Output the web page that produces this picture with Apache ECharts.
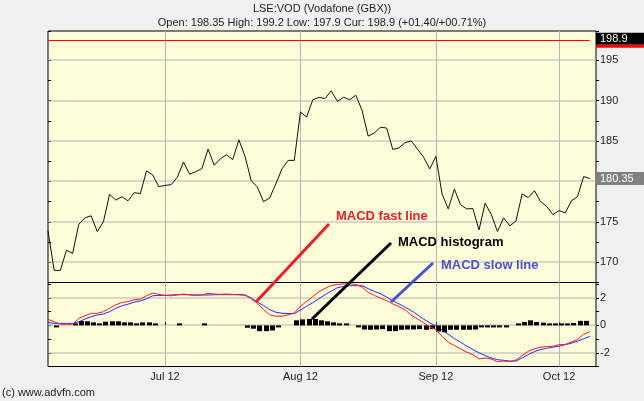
<!DOCTYPE html>
<html><head><meta charset="utf-8">
<script src="https://cdn.jsdelivr.net/npm/echarts@6/dist/echarts.min.js"></script>
<style>html,body{margin:0;padding:0;background:#f0f0f0;} #c{width:644px;height:401px;}</style>
</head><body><div id="c"></div>
<script>
const titleText = 'LSE:VOD (Vodafone (GBX))';
const subtitleText = 'Open: 198.35 High: 199.2 Low: 197.9 Cur: 198.9 (+01.40/+00.71%)';
const footerText = '(c) www.advfn.com';

const dates = [
 '2012-06-01','2012-06-06','2012-06-07','2012-06-08','2012-06-11','2012-06-12','2012-06-13','2012-06-14','2012-06-15',
 '2012-06-18','2012-06-19','2012-06-20','2012-06-21','2012-06-22','2012-06-25','2012-06-26','2012-06-27','2012-06-28','2012-06-29',
 '2012-07-02','2012-07-03','2012-07-04','2012-07-05','2012-07-06','2012-07-09','2012-07-10','2012-07-11','2012-07-12','2012-07-13',
 '2012-07-16','2012-07-17','2012-07-18','2012-07-19','2012-07-20','2012-07-23','2012-07-24','2012-07-25','2012-07-26','2012-07-27',
 '2012-07-30','2012-07-31',
 '2012-08-01','2012-08-02','2012-08-03','2012-08-06','2012-08-07','2012-08-08','2012-08-09','2012-08-10','2012-08-13','2012-08-14',
 '2012-08-15','2012-08-16','2012-08-17','2012-08-20','2012-08-21','2012-08-22','2012-08-23','2012-08-24','2012-08-28','2012-08-29',
 '2012-08-30','2012-08-31',
 '2012-09-03','2012-09-04','2012-09-05','2012-09-06','2012-09-07','2012-09-10','2012-09-11','2012-09-12','2012-09-13','2012-09-14',
 '2012-09-17','2012-09-18','2012-09-19','2012-09-20','2012-09-21','2012-09-24','2012-09-25','2012-09-26','2012-09-27','2012-09-28',
 '2012-10-01','2012-10-02','2012-10-03','2012-10-04','2012-10-05','2012-10-08','2012-10-09'
];
const tickDates = ['2012-07-02','2012-08-01','2012-09-03','2012-10-01'];
const tickLabels = ['Jul 12','Aug 12','Sep 12','Oct 12'];

const price = [
 173.9,169.0,169.0,171.5,171.1,174.7,175.5,175.75,173.8,175.0,
 178.4,177.7,178.1,177.6,178.6,178.5,181.3,180.8,179.35,179.5,
 179.6,180.5,182.4,180.9,181.2,181.6,184.0,182.0,182.8,183.3,
 182.7,185.15,183.1,180.1,179.3,177.5,177.95,179.7,181.55,182.6,
 182.6,188.6,187.95,190.1,190.4,190.25,191.2,189.9,190.4,190.1,
 190.65,188.8,185.6,186.0,186.7,186.6,183.95,184.15,184.8,185.0,
 184.0,183.0,181.55,183.1,178.45,176.6,179.05,177.1,176.6,176.65,
 174.0,177.3,175.9,173.8,175.5,174.5,175.1,178.45,178.0,178.85,
 177.5,176.9,175.9,176.4,176.1,177.6,178.1,180.6,180.35
];
const macdFast = [
 0.44,0.26,0.09,0.07,0.09,0.51,0.7,0.88,0.88,1.0,
 1.25,1.5,1.67,1.74,1.87,1.92,2.16,2.36,2.26,2.19,
 2.16,2.22,2.29,2.22,2.19,2.22,2.33,2.29,2.26,2.29,
 2.26,2.24,2.2,1.95,1.6,1.15,0.77,0.67,0.67,0.77,
 0.9,1.4,1.75,2.1,2.45,2.7,2.92,2.97,3.03,3.05,
 2.98,2.81,2.41,2.19,1.99,1.81,1.57,1.37,1.13,0.75,
 0.48,0.19,-0.11,-0.3,-0.8,-1.22,-1.47,-1.71,-1.96,-2.13,
 -2.45,-2.38,-2.45,-2.65,-2.6,-2.65,-2.53,-2.2,-1.89,-1.71,
 -1.59,-1.54,-1.52,-1.41,-1.39,-1.22,-1.02,-0.65,-0.45
];
const macdSlow = [
 0.21,0.15,0.15,0.15,0.15,0.26,0.46,0.63,0.76,0.83,
 1.0,1.25,1.42,1.55,1.7,1.79,1.94,2.16,2.19,2.19,
 2.22,2.24,2.24,2.24,2.22,2.22,2.22,2.24,2.24,2.24,
 2.24,2.24,2.22,2.0,1.7,1.45,1.15,0.96,0.89,0.86,
 0.86,1.12,1.4,1.65,1.95,2.24,2.5,2.75,2.85,2.9,
 2.9,2.9,2.68,2.48,2.31,2.07,1.79,1.57,1.33,1.07,
 0.78,0.46,0.19,-0.04,-0.36,-0.65,-0.97,-1.22,-1.52,-1.76,
 -2.0,-2.2,-2.38,-2.5,-2.55,-2.6,-2.6,-2.38,-2.13,-1.91,
 -1.76,-1.67,-1.59,-1.52,-1.41,-1.3,-1.15,-0.97,-0.8
];
const macdHist = [
 null,-0.05,null,null,0.12,0.32,0.3,0.22,0.15,0.27,
 0.3,0.3,0.22,0.22,0.15,0.22,0.22,0.1,null,null,
 null,0.08,null,null,null,0.08,null,null,null,null,
 null,null,-0.17,-0.24,-0.42,-0.42,-0.37,-0.14,null,null,
 0.37,0.44,0.47,0.47,0.37,0.3,0.22,0.15,0.08,null,
 -0.04,-0.3,-0.32,-0.3,-0.27,-0.42,-0.42,-0.32,-0.3,-0.3,
 -0.27,-0.32,-0.27,-0.45,-0.5,-0.32,-0.32,-0.32,-0.32,-0.3,
 -0.05,-0.05,-0.05,-0.05,-0.05,null,0.12,0.25,0.37,0.25,
 0.2,0.05,0.05,0.08,0.12,0.17,0.33,0.33,null
];
const priceLabelTicks = [170,175,180,185,190,195];
const macdLabelTicks = [-2,0,2];
const curLabel = '198.9';
const curLineLevel = 197.45;
const lastPriceLabel = '180.35';
const annotationTexts = ['MACD fast line','MACD histogram','MACD slow line'];

const FONT = '"Liberation Sans", Arial, sans-serif';
const GRID = '#b4b4b4';
const BG = '#fefcd9';
const isTick = (idx, val) => tickDates.indexOf(val) >= 0;

// horizontal gridlines drawn through the axis scale (custom series, full grid width)
function gridLineRender(params, api) {
  const v = api.value(1);
  const p = api.coord([0, v]);
  const cs = params.coordSys;
  return {type: 'rect', silent: true,
    shape: {x: cs.x, y: Math.round(p[1]) - 0.5, width: cs.width, height: 1},
    style: {fill: GRID}};
}

const chart = echarts.init(document.getElementById('c'), null, {renderer: 'canvas'});
const xBase = {
  type: 'category', data: dates, boundaryGap: false,
  axisLine: {show: false},
  splitLine: {show: true, interval: isTick, lineStyle: {color: GRID, width: 1}}
};
chart.setOption({
  animation: false,
  backgroundColor: '#f0f0f0',
  title: [
    {text: titleText, left: 'center', top: 3, padding: 0,
     textStyle: {fontSize: 11, fontWeight: 'normal', color: '#222', fontFamily: FONT}},
    {text: subtitleText, left: 'center', top: 17, padding: 0,
     textStyle: {fontSize: 11, fontWeight: 'normal', color: '#222', fontFamily: FONT}}
  ],
  grid: [
    {left: 48, right: 48, top: 31, height: 251.5, show: true, backgroundColor: BG, borderColor: '#000', borderWidth: 1},
    {left: 48, right: 48, top: 282.5, height: 84, show: true, backgroundColor: BG, borderColor: '#000', borderWidth: 1}
  ],
  xAxis: [
    Object.assign({}, xBase, {gridIndex: 0, axisTick: {show: false}, axisLabel: {show: false}}),
    Object.assign({}, xBase, {gridIndex: 1,
      axisTick: {show: true, interval: isTick, inside: true, length: 3, lineStyle: {color: '#000'}},
      axisLabel: {show: true, interval: isTick, margin: 5, fontSize: 11, color: '#222', fontFamily: FONT,
        formatter: (v) => tickLabels[tickDates.indexOf(v)] || ''}})
  ],
  yAxis: [
    {type: 'value', gridIndex: 0, position: 'right', min: 167.5, max: 198.6, interval: 2.5,
     axisLine: {show: false},
     axisTick: {show: true, length: 3, lineStyle: {color: '#000'}},
     axisLabel: {show: true, margin: 4, fontSize: 11, color: '#222', fontFamily: FONT,
       formatter: (v) => priceLabelTicks.indexOf(Math.round(v * 100) / 100) >= 0 ? String(v) : ''},
     splitLine: {show: false}},
    {type: 'value', gridIndex: 0, position: 'left', min: 167.5, max: 198.6, interval: 2.5,
     axisLine: {show: false}, axisLabel: {show: false}, splitLine: {show: false},
     axisTick: {show: true, inside: true, length: 3, lineStyle: {color: '#000'}}},
    {type: 'value', gridIndex: 1, position: 'right', min: -3, max: 3.13, interval: 1,
     axisLine: {show: false},
     axisTick: {show: true, length: 3, lineStyle: {color: '#000'}},
     axisLabel: {show: true, margin: 4, fontSize: 11, color: '#222', fontFamily: FONT,
       formatter: (v) => macdLabelTicks.indexOf(Math.round(v * 100) / 100) >= 0 ? String(v) : ''},
     splitLine: {show: false}},
    {type: 'value', gridIndex: 1, position: 'left', min: -3, max: 3.13, interval: 1,
     axisLine: {show: false}, axisLabel: {show: false}, splitLine: {show: false},
     axisTick: {show: true, inside: true, length: 3, lineStyle: {color: '#000'}}}
  ],
  graphic: {elements: [
    {type: 'text', left: 2, top: 387, silent: true,
     style: {text: footerText, fontSize: 11, fill: '#222', fontFamily: FONT}},
    {type: 'line', z: 50, shape: {x1: 256, y1: 302, x2: 329, y2: 224}, style: {stroke: '#e8202a', lineWidth: 3}},
    {type: 'line', z: 50, shape: {x1: 312, y1: 319, x2: 391, y2: 243}, style: {stroke: '#000', lineWidth: 3}},
    {type: 'line', z: 50, shape: {x1: 391, y1: 302, x2: 433, y2: 263}, style: {stroke: '#4a50d0', lineWidth: 3}},
    {type: 'text', z: 50, x: 336, y: 216, style: {text: annotationTexts[0], fill: '#e8202a', font: 'bold 13px ' + FONT, textVerticalAlign: 'middle'}},
    {type: 'text', z: 50, x: 398, y: 242, style: {text: annotationTexts[1], fill: '#000', font: 'bold 13px ' + FONT, textVerticalAlign: 'middle'}},
    {type: 'text', z: 50, x: 441, y: 265, style: {text: annotationTexts[2], fill: '#4a50d0', font: 'bold 13px ' + FONT, textVerticalAlign: 'middle'}}
  ]},
  series: [
    {type: 'custom', name: 'Price grid', xAxisIndex: 0, yAxisIndex: 0, z: 1, silent: true,
     data: priceLabelTicks.map(v => [0, v]), renderItem: gridLineRender},
    {type: 'custom', name: 'MACD grid', xAxisIndex: 1, yAxisIndex: 2, z: 1, silent: true,
     data: macdLabelTicks.map(v => [0, v]), renderItem: gridLineRender},
    {type: 'line', name: 'Price', xAxisIndex: 0, yAxisIndex: 0, data: price, symbol: 'none', z: 3,
     lineStyle: {color: '#111', width: 1},
     markLine: {silent: true, symbol: ['none', 'none'], animation: false,
       data: [
         [{coord: [dates[0], curLineLevel], lineStyle: {color: '#ff0000', width: 1, type: 'solid'}, label: {show: false}},
          {coord: [dates[price.length - 1], curLineLevel]}],
         {yAxis: curLineLevel, lineStyle: {color: 'rgba(0,0,0,0)', width: 1},
          label: {show: true, position: 'end', distance: 0, formatter: '{a|' + curLabel + '}\n{b|}',
            rich: {a: {backgroundColor: '#000', color: '#fff', fontSize: 11, fontFamily: FONT, width: 44, height: 12, lineHeight: 12, padding: [0, 0, 0, 4]},
                   b: {backgroundColor: '#ff0000', width: 48, height: 3, lineHeight: 3}}}},
         {yAxis: price[price.length - 1], lineStyle: {color: 'rgba(0,0,0,0)', width: 1},
          label: {show: true, position: 'end', distance: 0, formatter: lastPriceLabel,
            backgroundColor: '#808080', color: '#fff', fontSize: 11, fontFamily: FONT, width: 44, padding: [1, 0, 1, 4]}}
       ]}},
    {type: 'line', name: 'MACD slow', xAxisIndex: 1, yAxisIndex: 2, data: macdSlow, symbol: 'none', z: 2,
     lineStyle: {color: '#1f2bff', width: 1}},
    {type: 'custom', name: 'MACD histogram', xAxisIndex: 1, yAxisIndex: 2, z: 3,
     data: macdHist.map((v, i) => [i, v]),
     renderItem: function (params, api) {
       const v = api.value(1);
       if (v === null || v === undefined || isNaN(v)) return null;
       const base = api.coord([api.value(0), 0]);
       const top = api.coord([api.value(0), v]);
       let y = Math.min(base[1], top[1]);
       let h = Math.abs(top[1] - base[1]);
       if (h < 2) { h = 2; y = v >= 0 ? base[1] - 2 : base[1]; }
       return {type: 'rect', shape: {x: Math.round(base[0]), y: y, width: 5, height: h}, style: {fill: '#000'}};
     }},
    {type: 'line', name: 'MACD fast', xAxisIndex: 1, yAxisIndex: 2, data: macdFast, symbol: 'none', z: 4,
     lineStyle: {color: '#ff1a1a', width: 1}}
  ]
});
</script>
</body></html>
